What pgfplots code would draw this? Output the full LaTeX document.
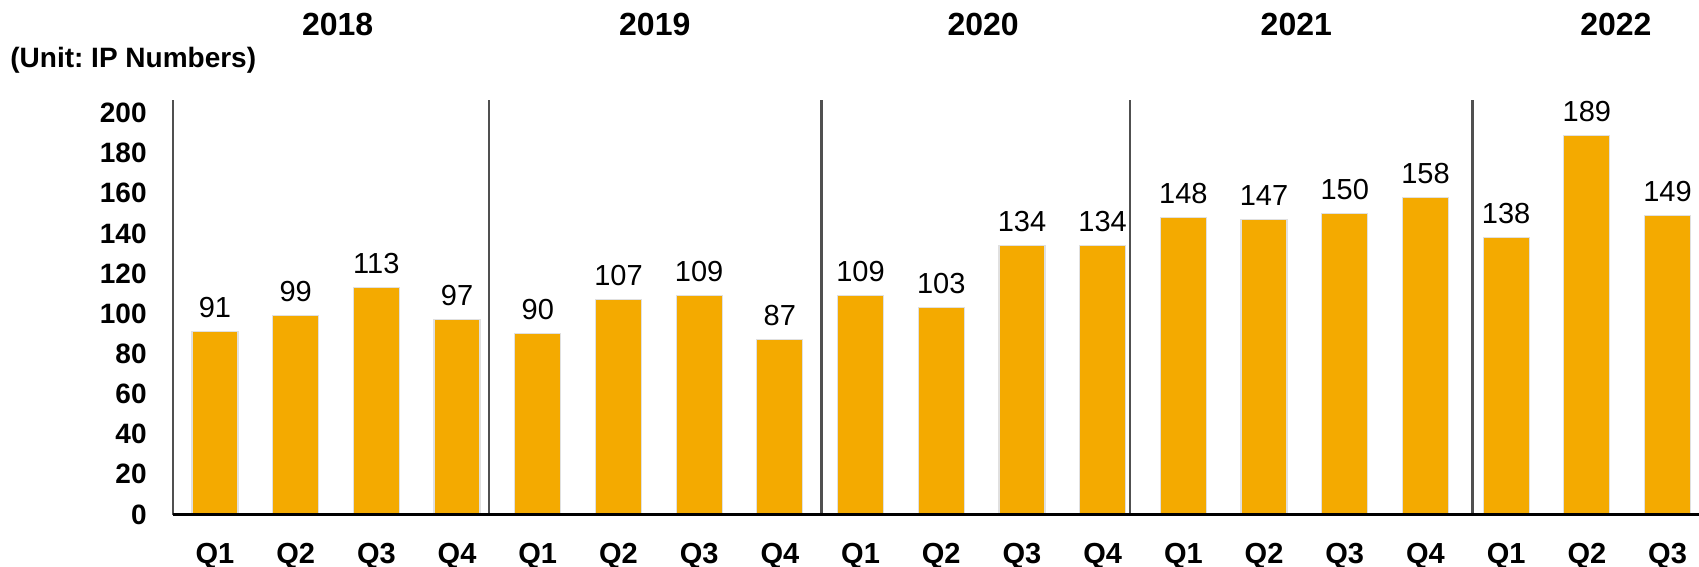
\documentclass[border=0pt]{standalone}
\usepackage{fontspec}
\setmainfont{Liberation Sans}
\usepackage{pgfplots}
\pgfplotsset{compat=1.18}
\definecolor{barc}{RGB}{244,170,0}
\definecolor{sepc}{RGB}{80,80,80}
\frenchspacing
\begin{document}
\begin{tikzpicture}
\begin{axis}[
  scale only axis, width=763bp, height=207.25bp,
  xmin=-0.52, xmax=18.39, ymin=0, ymax=206.5,
  ybar, bar width=0.57,
  clip=false,
  axis line style={draw=none},
  tick style={draw=none},
  /pgf/number format/assume math mode=true,
  ytick={0,20,...,200},
  xtick={0,...,18},
  xticklabels={Q1,Q2,Q3,Q4,Q1,Q2,Q3,Q4,Q1,Q2,Q3,Q4,Q1,Q2,Q3,Q4,Q1,Q2,Q3},
  yticklabel style={font=\bfseries\fontsize{14bp}{14bp}\selectfont, anchor=east, inner sep=0pt, xshift=-13bp},
  xticklabel style={font=\bfseries\fontsize{14.5bp}{14.5bp}\selectfont, anchor=north, inner sep=0pt, yshift=-9.8bp},
  nodes near coords,
  nodes near coords style={font=\fontsize{14.5bp}{14.5bp}\selectfont, anchor=south, inner sep=0pt, yshift=6.5bp, text=black},
]
\addplot[fill=barc, draw=black!12, line width=0.6bp] coordinates {
 (0,91) (1,99) (2,113) (3,97)
 (4,90) (5,107) (6,109) (7,87)
 (8,109) (9,103) (10,134) (11,134)
 (12,148) (13,147) (14,150) (15,158)
 (16,138) (17,189) (18,149)};
\draw[sepc, line width=1.4bp] (rel axis cs:0,0) -- (rel axis cs:0,1);
\draw[sepc, line width=1.4bp] (axis cs:3.395,0) -- (axis cs:3.395,206.5);
\draw[sepc, line width=1.4bp] (axis cs:7.52,0) -- (axis cs:7.52,206.5);
\draw[sepc, line width=1.4bp] (axis cs:11.34,0) -- (axis cs:11.34,206.5);
\draw[sepc, line width=1.4bp] (axis cs:15.58,0) -- (axis cs:15.58,206.5);
\draw[black, line width=1.5bp] (rel axis cs:0,0) -- (rel axis cs:1,0);
\node[font=\bfseries\fontsize{16bp}{16bp}\selectfont] at (axis cs:1.52,244.3) {2018};
\node[font=\bfseries\fontsize{16bp}{16bp}\selectfont] at (axis cs:5.45,244.3) {2019};
\node[font=\bfseries\fontsize{16bp}{16bp}\selectfont] at (axis cs:9.52,244.3) {2020};
\node[font=\bfseries\fontsize{16bp}{16bp}\selectfont] at (axis cs:13.4,244.3) {2021};
\node[font=\bfseries\fontsize{16bp}{16bp}\selectfont] at (axis cs:17.36,244.3) {2022};
\node[font=\bfseries\fontsize{14bp}{14bp}\selectfont, anchor=west, inner sep=0pt] at (axis cs:-2.54,226.4) {(Unit: IP Numbers)};
\end{axis}
\pgfresetboundingbox
\path[use as bounding box] (-86.5bp,-26.25bp) rectangle (763bp,257.25bp);
\end{tikzpicture}
\end{document}
